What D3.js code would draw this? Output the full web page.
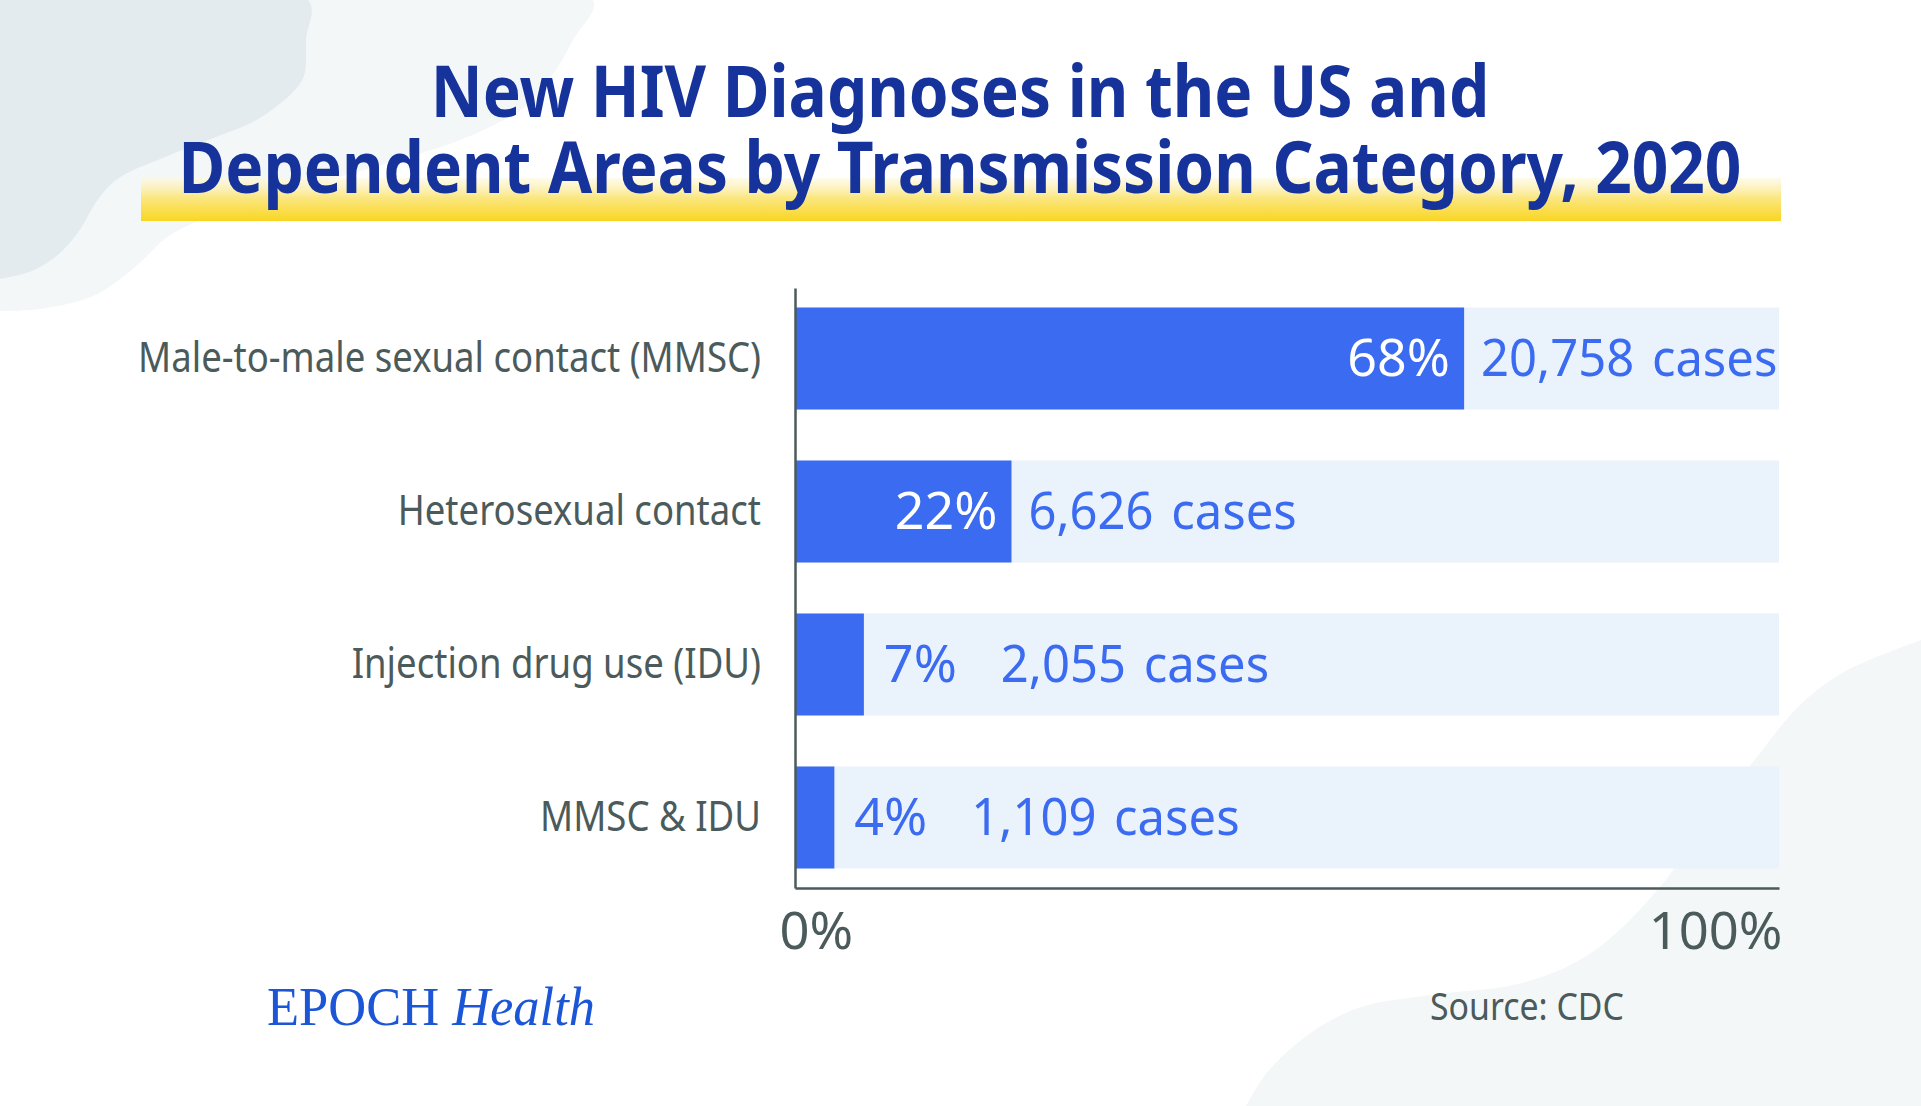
<!DOCTYPE html>
<html>
<head>
<meta charset="utf-8">
<script src="https://cdn.jsdelivr.net/npm/d3@7"></script>
<style>
  html, body { margin: 0; padding: 0; background: #ffffff; }
  svg { display: block; }
  text { font-family: "Noto Sans", "Open Sans", sans-serif; white-space: pre; }
</style>
</head>
<body>
<svg id="chart" width="1921" height="1106"></svg>
<script>
// ---------- data ----------
const categories = [
  "Male-to-male sexual contact (MMSC)",
  "Heterosexual contact",
  "Injection drug use (IDU)",
  "MMSC & IDU"
];
const percents = [68, 22, 7, 4];
const cases = [20758, 6626, 2055, 1109];
const xTicks = [0, 100];
const titleLines = [
  "New HIV Diagnoses in the US and",
  "Dependent Areas by Transmission Category, 2020"
];
const sourceText = "Source: CDC";

// ---------- setup ----------
const W = 1921, H = 1106;
const svg = d3.select("#chart");
const BLUE = "#3a6bf0", TRACK = "#eaf2fc", GREY = "#4b5a5a", NAVY = "#15339b";

function condense(sel, f) {
  sel.each(function () {
    const w = this.getComputedTextLength();
    d3.select(this).attr("textLength", w * f).attr("lengthAdjust", "spacingAndGlyphs");
  });
}

// ---------- background decoration ----------
const defs = svg.append("defs");
const grad = defs.append("linearGradient").attr("id", "hl").attr("x1", 0).attr("y1", 0).attr("x2", 0).attr("y2", 1);
grad.append("stop").attr("offset", "0%").attr("stop-color", "#fdf8dc").attr("stop-opacity", 0.6);
grad.append("stop").attr("offset", "45%").attr("stop-color", "#fbe783");
grad.append("stop").attr("offset", "100%").attr("stop-color", "#f9d622");

const blob = d3.line().curve(d3.curveCatmullRom.alpha(0.5));
const lightTL = [[0,0],[593,0],[573,40],[554,73],[526,106],[494,125],[455,142],[415,155],[330,180],[250,205],[196,222],[166,238],[146,257],[119,280],[91,297],[40,309],[0,311]];
const darkTL = [[0,0],[308,0],[306,40],[304,76],[293,92],[277,106],[253,122],[221,135],[170,155],[119,178],[99,198],[79,231],[59,254],[32,271],[0,279]];
const lightBR = [[1921,640],[1844,672],[1800,705],[1752,763],[1706,822],[1660,887],[1591,953],[1522,983],[1430,995],[1361,1007],[1315,1030],[1269,1070],[1246,1106]];

svg.append("path").attr("d", blob(lightTL) + "Z").attr("fill", "#f4f7f8");
svg.append("path").attr("d", blob(darkTL) + "Z").attr("fill", "#e3ebef");
svg.append("path").attr("d", blob(lightBR) + `L${W},${H}Z`).attr("fill", "#f4f7f8");

// ---------- title ----------
svg.append("rect").attr("x", 141).attr("y", 178).attr("width", 1640).attr("height", 43).attr("fill", "url(#hl)");
const title = svg.append("text")
  .attr("text-anchor", "middle")
  .attr("font-size", 71)
  .attr("font-weight", 700)
  .attr("fill", NAVY);
title.selectAll("tspan").data(titleLines).join("tspan")
  .attr("x", 960)
  .attr("y", (d, i) => 117 + i * 76)
  .text(d => d)
  .each(function () {
    const w = this.getComputedTextLength();
    d3.select(this).attr("textLength", w * 0.9).attr("lengthAdjust", "spacingAndGlyphs");
  });

// ---------- scales ----------
const x = d3.scaleLinear().domain([0, 100]).range([795, 1779]);
const y = d3.scaleBand().domain(categories).range([288, 888]).paddingInner(1 / 3).paddingOuter(0.1275);

const rows = categories.map((c, i) => ({ cat: c, pct: percents[i], n: cases[i] }));
const g = svg.append("g");

// track bars
g.selectAll("rect.track").data(rows).join("rect").attr("class", "track")
  .attr("x", x(0)).attr("y", d => y(d.cat))
  .attr("width", x(100) - x(0)).attr("height", y.bandwidth())
  .attr("fill", TRACK);

// value bars
g.selectAll("rect.bar").data(rows).join("rect").attr("class", "bar")
  .attr("x", x(0)).attr("y", d => y(d.cat))
  .attr("width", d => x(d.pct) - x(0)).attr("height", y.bandwidth())
  .attr("fill", BLUE);

// ---------- axes ----------
const yAxis = svg.append("g").attr("transform", `translate(${x(0)},0)`)
  .call(d3.axisLeft(y).tickSize(0).tickPadding(34).tickSizeOuter(0));
yAxis.select(".domain").attr("stroke", GREY).attr("stroke-width", 2.5);
yAxis.selectAll("text").attr("font-size", 42).attr("fill", GREY).attr("dy", "0.33em")
  .style("font-family", "'Noto Sans', sans-serif");
condense(yAxis.selectAll("text"), 0.87);

const xAxis = svg.append("g").attr("transform", `translate(0,${y.range()[1]})`)
  .call(d3.axisBottom(x).tickValues(xTicks).tickSize(0).tickPadding(25).tickSizeOuter(0).tickFormat(d => d + "%"));
xAxis.select(".domain").attr("stroke", GREY).attr("stroke-width", 2.5);
xAxis.selectAll("text").attr("font-size", 51).attr("fill", GREY)
  .style("font-family", "'Noto Sans', sans-serif")
  .attr("text-anchor", (d, i) => i === 0 ? "start" : "end")
  .attr("dx", (d, i) => i === 0 ? -16 : 3);
condense(xAxis.selectAll("text"), 1.03);

// ---------- value labels ----------
const fmt = d3.format(",");
const INSIDE_MIN = 15;
const PCT_F = 1.02, CASES_F = 0.96;
rows.forEach(d => {
  const cy = y(d.cat) + y.bandwidth() / 2;
  const inside = d.pct >= INSIDE_MIN;
  const pctT = g.append("text")
    .attr("y", cy).attr("dy", "0.34em")
    .attr("font-size", 51)
    .attr("fill", inside ? "#ffffff" : BLUE)
    .attr("text-anchor", inside ? "end" : "start")
    .attr("x", inside ? x(d.pct) - 14 : x(d.pct) + 20)
    .text(d.pct + "%");
  const pw = pctT.node().getComputedTextLength() * PCT_F;
  condense(pctT, PCT_F);
  const cx = inside ? x(d.pct) + 17 : x(d.pct) + 20 + pw + 44;
  const cT = g.append("text")
    .attr("x", cx).attr("y", cy).attr("dy", "0.34em")
    .attr("font-size", 51).attr("fill", BLUE)
    .text(fmt(d.n) + " \u200acases");
  condense(cT, CASES_F);
});

// ---------- footer ----------
const logo = svg.append("text").attr("x", 267).attr("y", 1025)
  .style("font-family", "'Liberation Serif', 'DejaVu Serif', serif")
  .attr("font-size", 55).attr("fill", "#1a56d6");
logo.append("tspan").text("EPOCH ");
logo.append("tspan").attr("font-style", "italic").text("Health");
logo.attr("textLength", 328).attr("lengthAdjust", "spacingAndGlyphs");

const src = svg.append("text").attr("x", 1430).attr("y", 1020)
  .attr("font-size", 38).attr("fill", GREY).text(sourceText);
condense(src, 0.89);
</script>
</body>
</html>
